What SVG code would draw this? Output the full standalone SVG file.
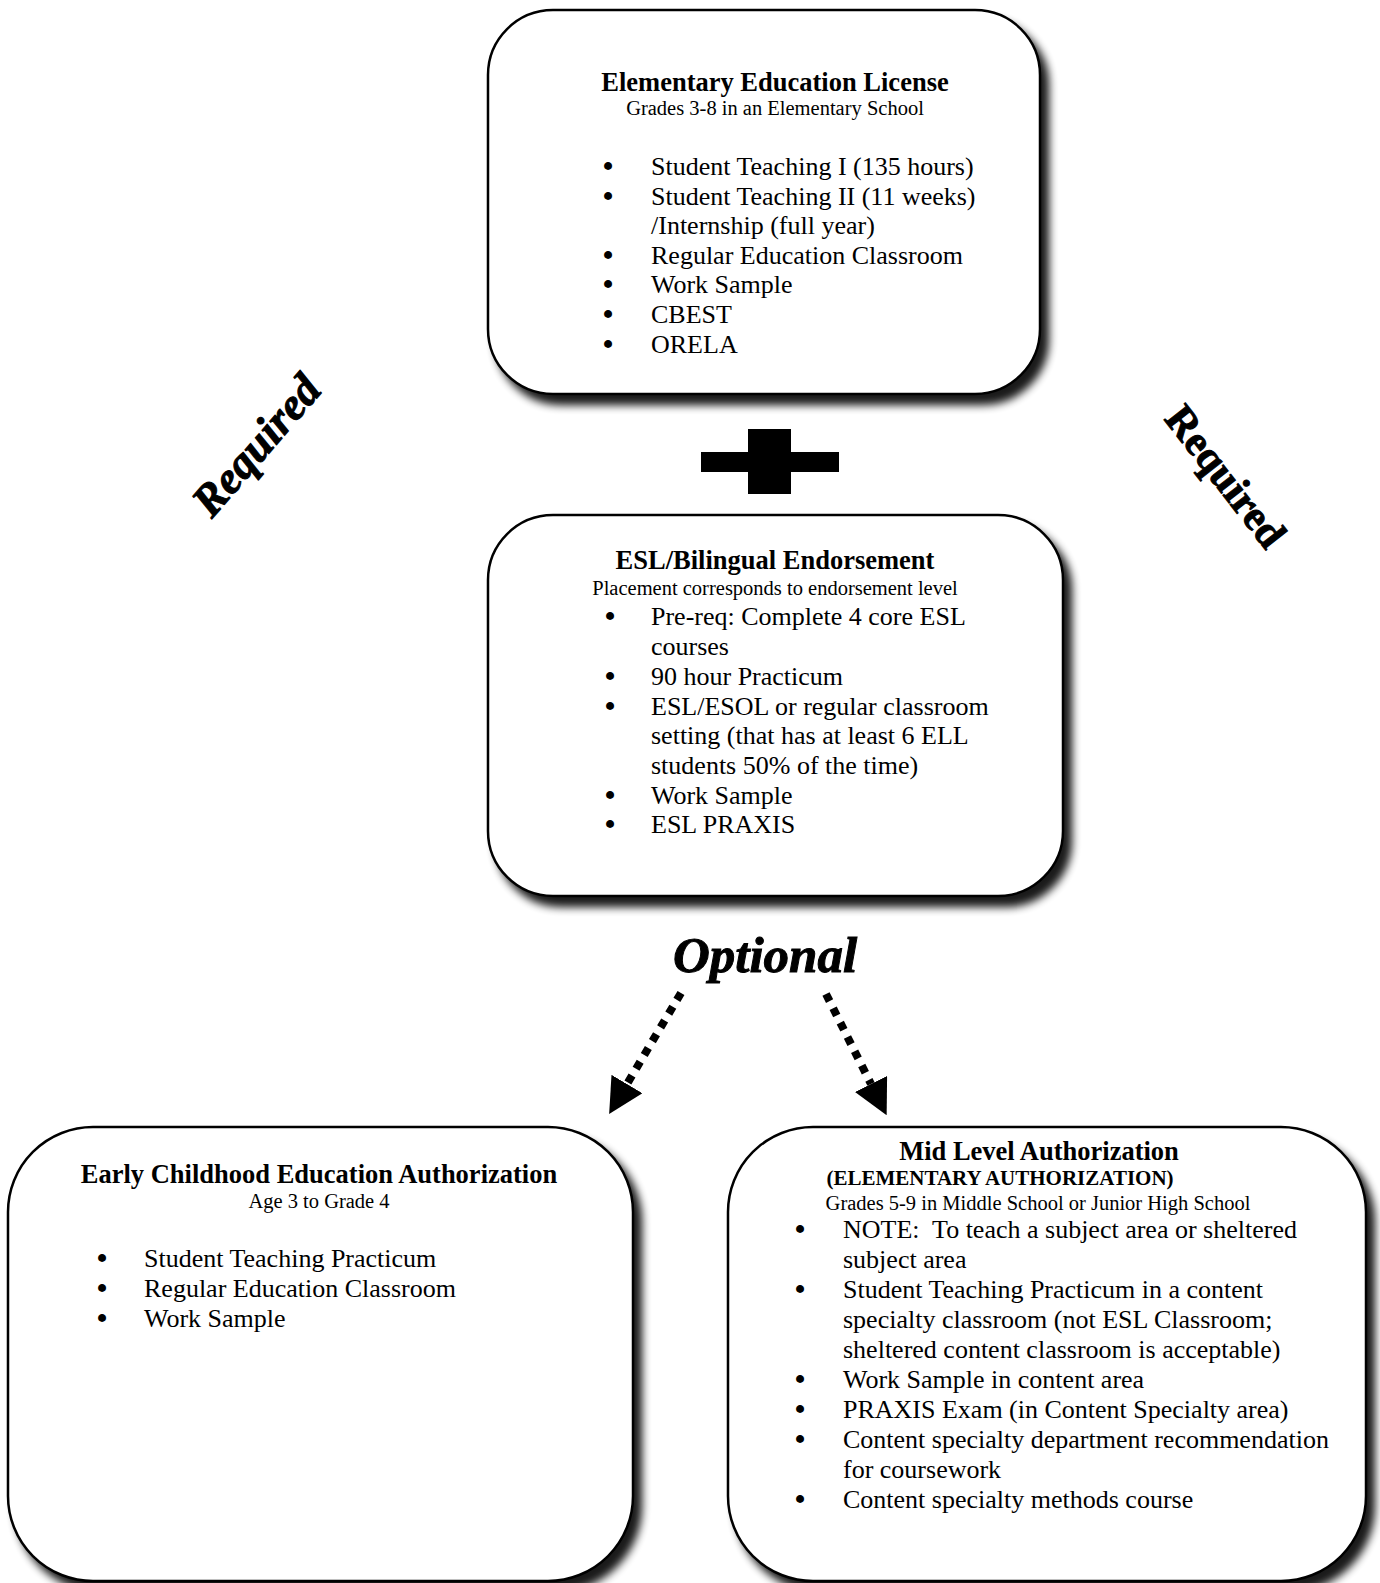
<svg xmlns="http://www.w3.org/2000/svg" width="1380" height="1583" viewBox="0 0 1380 1583">
  <style>
    .box { fill: #ffffff; stroke: #000000; stroke-width: 2.5; }
    text { font-family: "Liberation Serif", "Times New Roman", serif; fill: #000000; }
    .title { font-size: 26.5px; font-weight: bold; text-anchor: middle; }
    .title2 { font-size: 21px; font-weight: bold; text-anchor: middle; }
    .sub { font-size: 20.5px; text-anchor: middle; }
    .body { font-size: 26px; }
    .bul { font-size: 26px; text-anchor: middle; stroke: #000000; stroke-width: 1.8; }
    .word { font-weight: bold; text-anchor: middle; stroke: #000000; stroke-width: 1; }
    .dots { fill: none; stroke: #000000; stroke-width: 8; stroke-dasharray: 8 8; }
  </style>
  <defs>
    <filter id="shadow" x="-10%" y="-10%" width="125%" height="125%">
      <feGaussianBlur in="SourceAlpha" stdDeviation="4.5"/>
      <feOffset dx="8" dy="10" result="off"/>
      <feComponentTransfer><feFuncA type="linear" slope="0.9"/></feComponentTransfer>
      <feMerge><feMergeNode/><feMergeNode in="SourceGraphic"/></feMerge>
    </filter>
    <marker id="arrow" viewBox="0 0 35 36" refX="0" refY="18" markerWidth="35" markerHeight="36" markerUnits="userSpaceOnUse" orient="auto">
      <path d="M0,0 L35,18 L0,36 Z" fill="#000000"/>
    </marker>
  </defs>
  <rect width="1380" height="1583" fill="#ffffff"/>

  <g id="elementary-license">
    <rect class="box" x="488" y="10" width="552" height="384" rx="65" ry="65" filter="url(#shadow)"/>
    <text class="title" x="775" y="91">Elementary Education License</text>
    <text class="sub" x="775" y="115">Grades 3-8 in an Elementary School</text>
    <text class="bul" x="608" y="175">•</text>
    <text class="body" x="651" y="175">Student Teaching I (135 hours)</text>
    <text class="bul" x="608" y="204.5">•</text>
    <text class="body" x="651" y="204.5">Student Teaching II (11 weeks)</text>
    <text class="body" x="651" y="234">/Internship (full year)</text>
    <text class="bul" x="608" y="263.5">•</text>
    <text class="body" x="651" y="263.5">Regular Education Classroom</text>
    <text class="bul" x="608" y="293">•</text>
    <text class="body" x="651" y="293">Work Sample</text>
    <text class="bul" x="608" y="323">•</text>
    <text class="body" x="651" y="323">CBEST</text>
    <text class="bul" x="608" y="353">•</text>
    <text class="body" x="651" y="353">ORELA</text>
  </g>

  <g id="plus">
    <rect x="679" y="417" width="177" height="88" fill="#ffffff"/>
    <rect x="701" y="452" width="138" height="20" fill="#000000"/>
    <rect x="748" y="429" width="43" height="65" fill="#000000"/>
  </g>

  <g id="esl-endorsement">
    <rect class="box" x="488" y="515" width="575" height="381" rx="65" ry="65" filter="url(#shadow)"/>
    <text class="title" x="775" y="569">ESL/Bilingual Endorsement</text>
    <text class="sub" x="775" y="595">Placement corresponds to endorsement level</text>
    <text class="bul" x="610" y="625">•</text>
    <text class="body" x="651" y="625">Pre-req: Complete 4 core ESL</text>
    <text class="body" x="651" y="654.5">courses</text>
    <text class="bul" x="610" y="684.5">•</text>
    <text class="body" x="651" y="684.5">90 hour Practicum</text>
    <text class="bul" x="610" y="714.5">•</text>
    <text class="body" x="651" y="714.5">ESL/ESOL or regular classroom</text>
    <text class="body" x="651" y="744">setting (that has at least 6 ELL</text>
    <text class="body" x="651" y="774">students 50% of the time)</text>
    <text class="bul" x="610" y="803.5">•</text>
    <text class="body" x="651" y="803.5">Work Sample</text>
    <text class="bul" x="610" y="833">•</text>
    <text class="body" x="651" y="833">ESL PRAXIS</text>
  </g>

  <g id="required-left">
    <text class="word" transform="translate(257,446) rotate(-49)" x="0" y="14" font-size="45" font-style="italic">Required</text>
  </g>
  <g id="required-right">
    <text class="word" transform="translate(1225,477) rotate(52)" x="0" y="13" font-size="42">Required</text>
  </g>

  <g id="optional-label">
    <text class="word" x="765" y="972" font-size="51" font-style="italic">Optional</text>
  </g>

  <g id="connectors">
    <path class="dots" d="M681,993 L627,1084" marker-end="url(#arrow)"/>
    <path class="dots" d="M826,994 L871,1084" marker-end="url(#arrow)"/>
  </g>

  <g id="early-childhood">
    <rect class="box" x="8" y="1127" width="625" height="454" rx="85" ry="85" filter="url(#shadow)"/>
    <text class="title" x="319" y="1183">Early Childhood Education Authorization</text>
    <text class="sub" x="319" y="1208">Age 3 to Grade 4</text>
    <text class="bul" x="102" y="1267">•</text>
    <text class="body" x="144" y="1267">Student Teaching Practicum</text>
    <text class="bul" x="102" y="1297">•</text>
    <text class="body" x="144" y="1297">Regular Education Classroom</text>
    <text class="bul" x="102" y="1327">•</text>
    <text class="body" x="144" y="1327">Work Sample</text>
  </g>

  <g id="mid-level">
    <rect class="box" x="728" y="1127" width="638" height="454" rx="85" ry="85" filter="url(#shadow)"/>
    <text class="title" x="1039" y="1160">Mid Level Authorization</text>
    <text class="title2" x="1000" y="1185">(ELEMENTARY AUTHORIZATION)</text>
    <text class="sub" x="1038" y="1210">Grades 5-9 in Middle School or Junior High School</text>
    <text class="bul" x="800" y="1238">•</text>
    <text class="body" x="843" y="1238" xml:space="preserve">NOTE:  To teach a subject area or sheltered</text>
    <text class="body" x="843" y="1268">subject area</text>
    <text class="bul" x="800" y="1298">•</text>
    <text class="body" x="843" y="1298">Student Teaching Practicum in a content</text>
    <text class="body" x="843" y="1328">specialty classroom (not ESL Classroom;</text>
    <text class="body" x="843" y="1358">sheltered content classroom is acceptable)</text>
    <text class="bul" x="800" y="1388">•</text>
    <text class="body" x="843" y="1388">Work Sample in content area</text>
    <text class="bul" x="800" y="1418">•</text>
    <text class="body" x="843" y="1418">PRAXIS Exam (in Content Specialty area)</text>
    <text class="bul" x="800" y="1448">•</text>
    <text class="body" x="843" y="1448">Content specialty department recommendation</text>
    <text class="body" x="843" y="1478">for coursework</text>
    <text class="bul" x="800" y="1508">•</text>
    <text class="body" x="843" y="1508">Content specialty methods course</text>
  </g>
</svg>
